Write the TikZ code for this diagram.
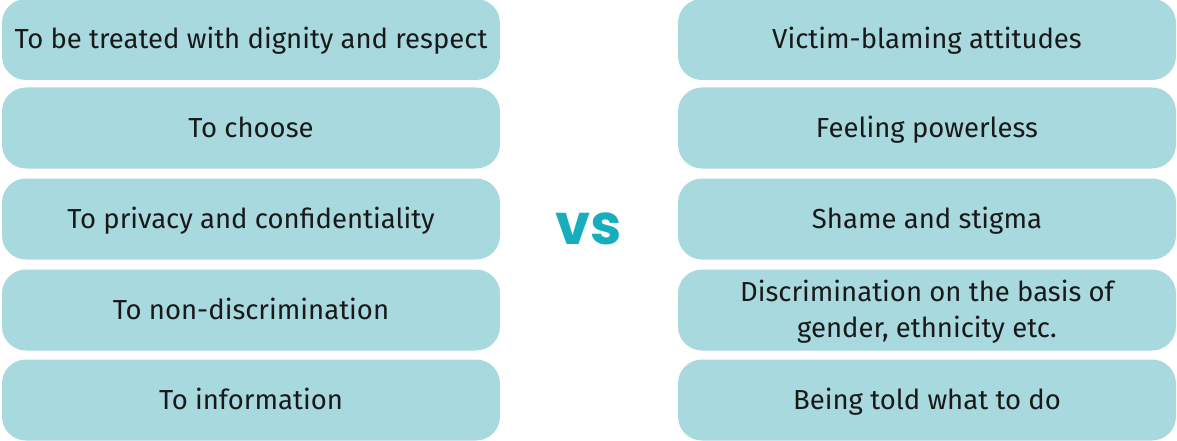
\documentclass[tikz,border=0pt]{standalone}
\usepackage{fontspec}
\setmainfont{Fira Sans}
\newfontfamily\vsfont{Poppins}
\definecolor{boxfill}{HTML}{A8D9DE}
\definecolor{vsteal}{HTML}{16ADBD}
\begin{document}
\begin{tikzpicture}[x=1pt,y=-1pt,
  pill/.style={fill=boxfill, draw=none, rounded corners=24pt, minimum width=498pt, minimum height=81pt, inner sep=0pt},
  txt/.style={inner sep=0pt, align=center, font=\fontsize{27.5}{36}\selectfont, text=black!90},
  vslabel/.style={font=\vsfont\bfseries\fontsize{56}{56}\selectfont, text=vsteal, inner sep=0pt}]
\useasboundingbox (0,0) rectangle (1177,441);
\node[pill] (l1) at (251,39.5) {};
\node[pill] (l2) at (251,128) {};
\node[pill] (l3) at (251,219) {};
\node[pill] (l4) at (251,310) {};
\node[pill] (l5) at (251,400) {};
\node[pill] (r1) at (927,39.5) {};
\node[pill] (r2) at (927,128) {};
\node[pill] (r3) at (927,219) {};
\node[pill] (r4) at (927,310) {};
\node[pill] (r5) at (927,400) {};
\node[txt] (tl1) at ([yshift=-2pt]l1.center) {\strut To be treated with dignity and respect};
\node[txt] (tl2) at ([yshift=-2pt]l2.center) {\strut To choose};
\node[txt] (tl3) at ([yshift=-2pt]l3.center) {\strut To privacy and confidentiality};
\node[txt] (tl4) at ([yshift=-2pt]l4.center) {\strut To non-discrimination};
\node[txt] (tl5) at ([yshift=-2pt]l5.center) {\strut To information};
\node[txt] (tr1) at ([yshift=-2pt]r1.center) {\strut Victim-blaming attitudes};
\node[txt] (tr2) at ([yshift=-2pt]r2.center) {\strut Feeling powerless};
\node[txt] (tr3) at ([yshift=-2pt]r3.center) {\strut Shame and stigma};
\node[txt] (tr4) at ([yshift=-2pt]r4.center) {\strut Discrimination on the basis of\\\strut gender, ethnicity etc.};
\node[txt] (tr5) at ([yshift=-2pt]r5.center) {\strut Being told what to do};
\node[vslabel] (vs) at (589,229) {vs};
\end{tikzpicture}
\end{document}
